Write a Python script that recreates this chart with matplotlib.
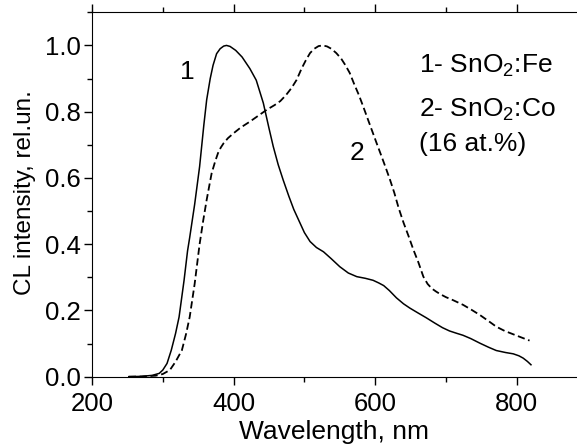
import matplotlib
matplotlib.use("Agg")
from matplotlib import pyplot as plt
from matplotlib.ticker import MultipleLocator, FormatStrFormatter

plt.rcParams['font.family'] = ['Liberation Sans', 'DejaVu Sans']
plt.rcParams['mathtext.default'] = 'regular'

# curve 1 - SnO2:Fe (solid)
wl_fe = [252, 270, 285, 295, 300, 306, 312, 318, 323, 330, 335, 338, 345, 352, 358, 362,
         367, 371, 376, 381, 386, 390, 395, 403, 412, 423, 432, 442, 450, 456, 463, 470,
         478, 485, 494, 500, 508, 517, 527, 538, 550, 562, 574, 586, 597, 605, 612, 620,
         630, 640, 649, 660, 672, 684, 695, 705, 715, 724, 735, 748, 760, 771, 784, 795,
         803, 809, 815, 820]
cl_fe = [0.0, 0.001, 0.004, 0.01, 0.02, 0.04, 0.08, 0.13, 0.18, 0.29, 0.38, 0.42, 0.52,
         0.634, 0.76, 0.836, 0.90, 0.94, 0.975, 0.99, 0.998, 1.0, 0.997, 0.985, 0.965, 0.93,
         0.895, 0.826, 0.75, 0.695, 0.64, 0.594, 0.545, 0.505, 0.463, 0.435, 0.408, 0.39,
         0.377, 0.356, 0.332, 0.313, 0.302, 0.297, 0.291, 0.283, 0.275, 0.26, 0.238, 0.22,
         0.207, 0.193, 0.178, 0.162, 0.148, 0.138, 0.131, 0.125, 0.115, 0.101, 0.089,
         0.079, 0.073, 0.069, 0.063, 0.056, 0.046, 0.036]

# curve 2 - SnO2:Co (dashed)
wl_co = [252, 270, 290, 300, 310, 318, 327, 333, 338, 345, 352, 357, 362, 366, 369, 374,
         378, 382, 386, 392, 400, 410, 423, 435, 447, 458, 466, 474, 482, 489, 496, 502,
         508, 514, 520, 526, 532, 538, 545, 552, 558, 564, 570, 577, 583, 590, 596, 602,
         609, 615, 621, 627, 633, 640, 647, 654, 661, 668, 674, 680, 686, 692, 700, 710,
         724, 736, 748, 760, 771, 783, 795, 807, 818]
cl_co = [0.0, 0.0005, 0.003, 0.008, 0.02, 0.045, 0.08, 0.13, 0.18, 0.28, 0.40, 0.47,
         0.534, 0.58, 0.614, 0.65, 0.675, 0.692, 0.705, 0.72, 0.735, 0.752, 0.77, 0.788,
         0.806, 0.82, 0.832, 0.85, 0.872, 0.896, 0.93, 0.955, 0.977, 0.99, 0.998, 1.0,
         0.997, 0.99, 0.977, 0.96, 0.94, 0.917, 0.885, 0.85, 0.816, 0.775, 0.74, 0.705,
         0.665, 0.63, 0.594, 0.555, 0.51, 0.465, 0.425, 0.383, 0.345, 0.302, 0.28, 0.266,
         0.257, 0.249, 0.24, 0.231, 0.217, 0.202, 0.186, 0.168, 0.151, 0.138, 0.128,
         0.118, 0.109]

fig = plt.figure(figsize=(5.77, 4.44), dpi=100)
ax = fig.add_axes([0.1594, 0.1516, 0.8406, 0.8207])

ax.plot(wl_fe, cl_fe, color='black', lw=1.1)
ax.plot(wl_co, cl_co, color='black', lw=1.3, linestyle=(0, (4, 2)))

ax.set_xlim(200, 885)
ax.set_ylim(0, 1.1)
ax.xaxis.set_major_locator(MultipleLocator(200))
ax.xaxis.set_minor_locator(MultipleLocator(100))
ax.yaxis.set_major_locator(MultipleLocator(0.2))
ax.yaxis.set_minor_locator(MultipleLocator(0.1))
ax.yaxis.set_major_formatter(FormatStrFormatter('%.1f'))

ax.spines['right'].set_visible(False)
ax.tick_params(which='major', direction='out', length=6, width=1, labelsize=18.5)
ax.tick_params(which='minor', direction='out', length=3.5, width=1)
ax.tick_params(axis='y', which='major', pad=2)
ax.tick_params(axis='x', which='major', pad=5)
ax.tick_params(axis='x', which='both', top=True, labeltop=False)

ax.set_xlabel('Wavelength, nm', fontsize=19)
ax.set_ylabel('CL intensity, rel.un.', fontsize=17.5)
ax.xaxis.set_label_coords(0.499, -0.118)
ax.yaxis.set_label_coords(-0.115, 0.505)

ax.text(335, 0.92, '1', fontsize=19, ha='center', va='center')
ax.text(574, 0.675, '2', fontsize=19, ha='center', va='center')
ax.text(662, 0.918, '1- SnO$_2$:Fe', fontsize=19, ha='left', va='baseline')
ax.text(662, 0.785, '2- SnO$_2$:Co', fontsize=19, ha='left', va='baseline')
ax.text(662, 0.68, '(16 at.%)', fontsize=19, ha='left', va='baseline')

fig.savefig('out.png', dpi=100)
